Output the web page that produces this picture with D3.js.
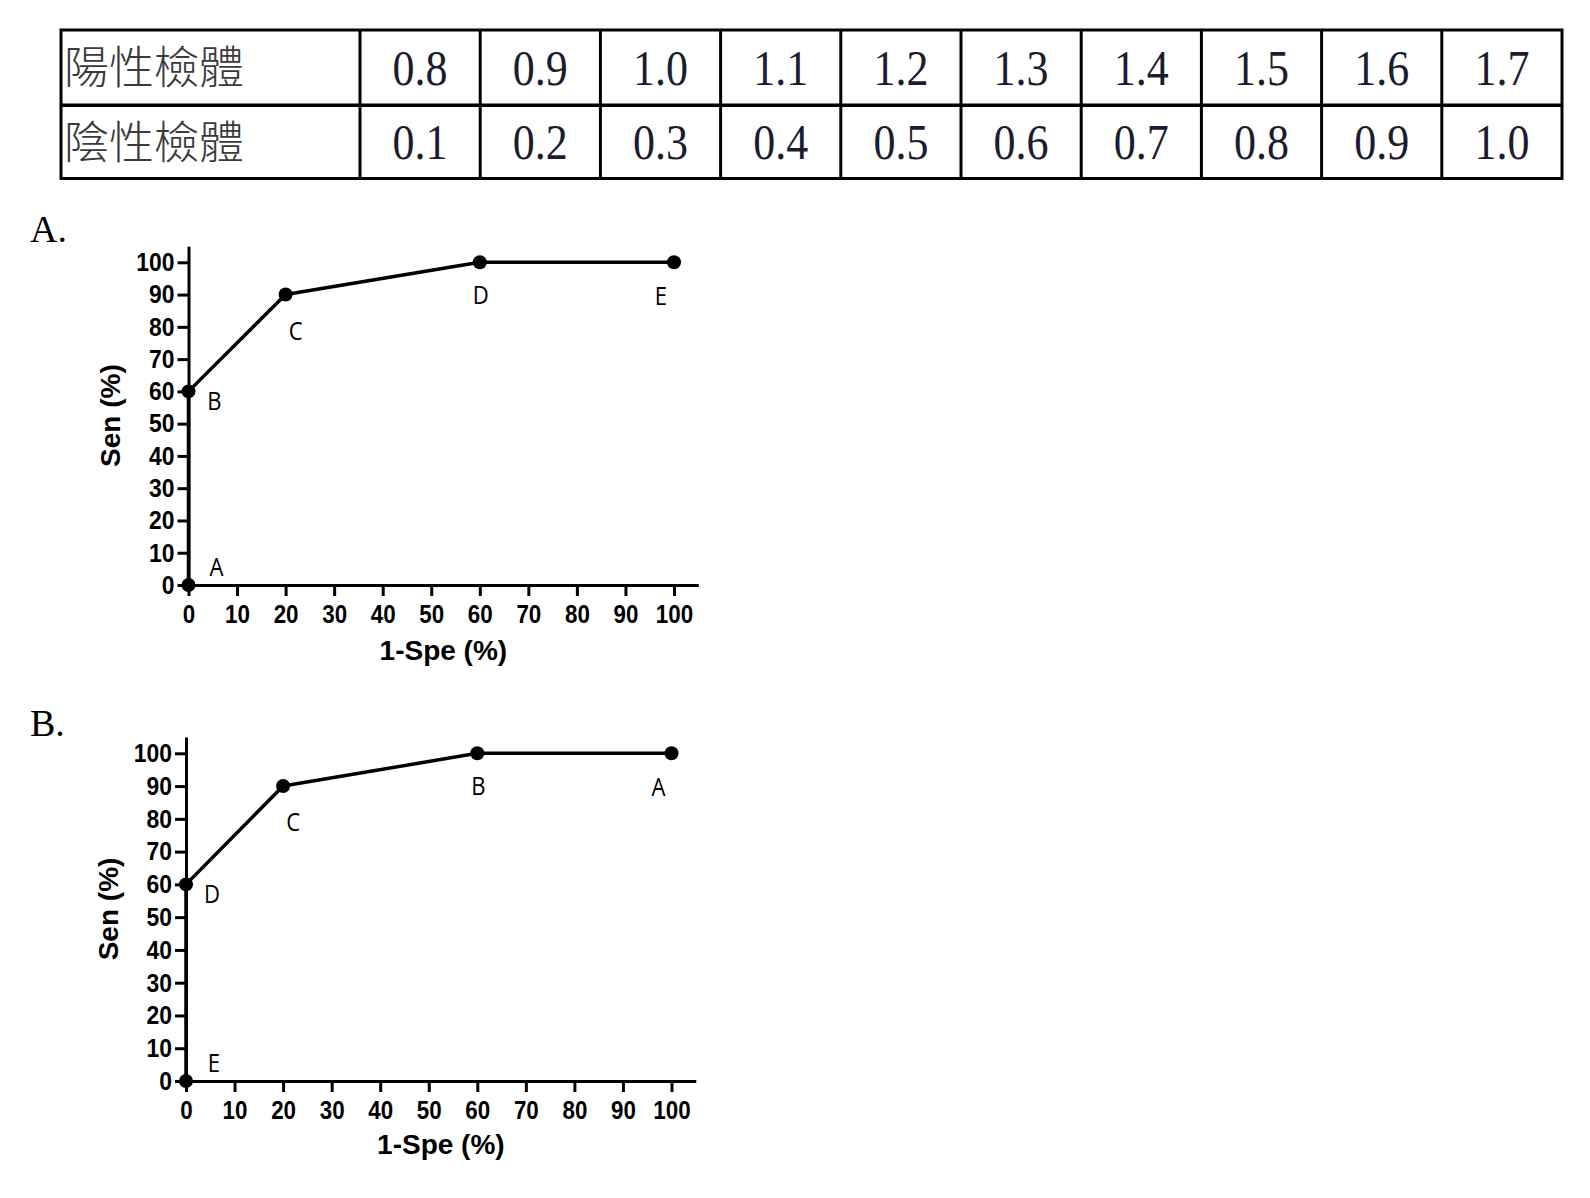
<!DOCTYPE html>
<html><head><meta charset="utf-8">
<script src="https://cdn.jsdelivr.net/npm/d3@7"></script>
<style>body{margin:0;background:#fff} svg{display:block}</style>
</head><body>
<svg id="c" width="1590" height="1198"></svg>
<script>
// ---------- data ----------
const rowLabels = ["陽性檢體", "陰性檢體"];
const positiveValues = ["0.8","0.9","1.0","1.1","1.2","1.3","1.4","1.5","1.6","1.7"];
const negativeValues = ["0.1","0.2","0.3","0.4","0.5","0.6","0.7","0.8","0.9","1.0"];
const rocX = [0, 0, 20, 60, 100];        // 1-Spe (%)
const rocY = [0, 60, 90, 100, 100];      // Sen (%)
const pointLabelsA = ["A","B","C","D","E"];
const pointLabelsB = ["E","D","C","B","A"];
const xTickValues = [0,10,20,30,40,50,60,70,80,90,100];
const yTickValues = [0,10,20,30,40,50,60,70,80,90,100];
const panelNames = ["A.", "B."];
const xTitle = "1-Spe (%)";
const yTitle = "Sen (%)";

// ---------- layout ----------
const svg = d3.select("#c");
const ink = "#000";

// Table
const tbl = {left: 61, labelRight: 360, right: 1562, top: 30, bottom: 178.5};
const colScale = d3.scaleBand().domain(d3.range(positiveValues.length)).range([tbl.labelRight, tbl.right]);
const rowScale = d3.scaleBand().domain([0,1]).range([tbl.top, tbl.bottom]);
const rows = [positiveValues, negativeValues];
const tg = svg.append("g");

tg.append("rect").attr("x", tbl.left).attr("y", tbl.top)
  .attr("width", tbl.right - tbl.left).attr("height", tbl.bottom - tbl.top)
  .attr("fill", "none").attr("stroke", ink).attr("stroke-width", 3);
tg.append("line").attr("x1", tbl.left).attr("x2", tbl.right)
  .attr("y1", rowScale(1) + 1).attr("y2", rowScale(1) + 1).attr("stroke", ink).attr("stroke-width", 3.5);
tg.selectAll("line.col").data(colScale.domain()).join("line").attr("class","col")
  .attr("x1", d => colScale(d)).attr("x2", d => colScale(d))
  .attr("y1", tbl.top).attr("y2", tbl.bottom).attr("stroke", ink).attr("stroke-width", 3);

tg.selectAll("text.rl").data(rowLabels).join("text").attr("class","rl")
  .attr("x", tbl.left + 3).attr("y", (d,i) => rowScale(i) + rowScale.bandwidth()/2 + 1)
  .attr("dy", "0.36em")
  .attr("font-family", "'Noto Sans CJK TC','Noto Sans CJK SC',sans-serif")
  .attr("font-size", 45).attr("font-weight", 300).attr("fill", "#3a3a3a")
  .text(d => d);

rows.forEach((vals, r) => {
  tg.selectAll("text.v" + r).data(vals).join("text").attr("class", "v" + r)
    .attr("transform", (d,i) => `translate(${colScale(i) + colScale.bandwidth()/2},${rowScale(r) + rowScale.bandwidth()/2 + 1}) scale(0.88,1)`)
    .attr("dy", "0.34em").attr("text-anchor", "middle")
    .attr("font-family", "'Liberation Serif','Times New Roman',serif")
    .attr("font-size", 50).attr("fill", "#1c1c30")
    .text(d => d);
});

// Charts
const labelOffsets = [[28,-18],[26,9],[10,36],[1,32],[-13,33]];
const charts = [
  {name: panelNames[0], labels: pointLabelsA, x0: 188.5, xUnit: 4.855, y0: 585, yUnit: 3.227, panelY: 242, yTitleX: 109.5, xTitleY: 660},
  {name: panelNames[1], labels: pointLabelsB, x0: 186, xUnit: 4.855, y0: 1081, yUnit: 3.277, panelY: 736, yTitleX: 107.5, xTitleY: 1154}
];

charts.forEach(c => {
  const x = d3.scaleLinear().domain([0, 105]).range([c.x0, c.x0 + 105 * c.xUnit]);
  const y = d3.scaleLinear().domain([0, 105]).range([c.y0, c.y0 - 105 * c.yUnit]);
  const g = svg.append("g");

  g.append("text").attr("x", 30).attr("y", c.panelY)
    .attr("font-family", "'Liberation Serif','Times New Roman',serif")
    .attr("font-size", 38).attr("fill", ink).text(c.name);

  const xa = g.append("g").attr("transform", `translate(0,${c.y0})`)
    .call(d3.axisBottom(x).tickValues(xTickValues).tickSize(11).tickSizeOuter(0).tickPadding(9).tickFormat(d3.format("d")));
  const ya = g.append("g").attr("transform", `translate(${c.x0},0)`)
    .call(d3.axisLeft(y).tickValues(yTickValues).tickSize(11).tickSizeOuter(0).tickPadding(3).tickFormat(d3.format("d")));
  [xa, ya].forEach(a => {
    a.selectAll("path, line").attr("stroke", ink).attr("stroke-width", 3);
    a.selectAll("text").attr("font-family", "'Liberation Sans',Arial,sans-serif")
      .attr("font-size", 26).attr("font-weight", "bold").attr("fill", ink);
  });
  xa.selectAll("text").attr("transform", "scale(0.86,1)");
  ya.selectAll("text").attr("x", null).attr("transform", "translate(-14,0) scale(0.88,1)");

  g.append("text").attr("x", (x.range()[0] + x.range()[1]) / 2).attr("y", c.xTitleY)
    .attr("text-anchor", "middle").attr("font-family", "'Liberation Sans',Arial,sans-serif")
    .attr("font-size", 28).attr("font-weight", "bold").attr("fill", ink).text(xTitle);
  g.append("text").attr("transform", `translate(${c.yTitleX},${(y.range()[0] + y.range()[1]) / 2}) rotate(-90)`)
    .attr("dy", "0.36em").attr("text-anchor", "middle").attr("font-family", "'Liberation Sans',Arial,sans-serif")
    .attr("font-size", 28).attr("font-weight", "bold").attr("fill", ink).text(yTitle);

  const pts = rocX.map((v, i) => ({x: v, y: rocY[i], label: c.labels[i], off: labelOffsets[i]}));
  g.append("path").datum(pts)
    .attr("d", d3.line().x(d => x(d.x)).y(d => y(d.y)))
    .attr("fill", "none").attr("stroke", ink).attr("stroke-width", 3.5).attr("stroke-linejoin", "round");
  g.selectAll("circle").data(pts).join("circle")
    .attr("cx", d => x(d.x)).attr("cy", d => y(d.y)).attr("r", 7).attr("fill", ink);
  g.selectAll("text.pl").data(pts).join("text").attr("class", "pl")
    .attr("transform", d => `translate(${x(d.x) + d.off[0]},${y(d.y) + d.off[1]}) scale(0.85,1)`)
    .attr("dy", "0.36em").attr("text-anchor", "middle")
    .attr("font-family", "'Open Sans','Noto Sans',sans-serif")
    .attr("font-size", 26).attr("fill", ink).text(d => d.label);
});
</script>
</body></html>
